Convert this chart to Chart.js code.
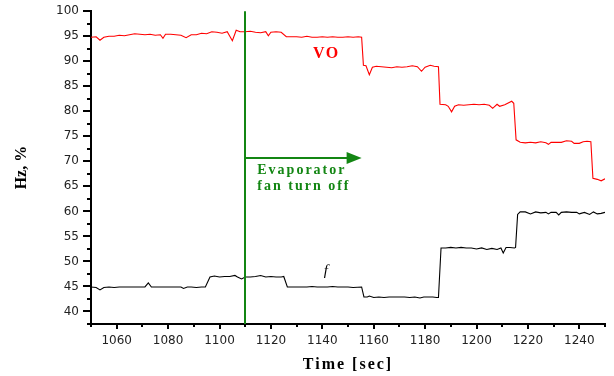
<!DOCTYPE html>
<html>
<head>
<meta charset="utf-8">
<title>VO and f vs time</title>
<script src="https://cdn.jsdelivr.net/npm/chart.js@4.4.1/dist/chart.umd.min.js"></script>
<style>
  html, body { margin: 0; padding: 0; background: #fff; }
  #wrap { width: 614px; height: 376px; position: relative; }
</style>
</head>
<body>
<div id="wrap"><canvas id="chart"></canvas></div>
<script>
// VO (%)
const voTime = [1050, 1052, 1053.5, 1055, 1057, 1059, 1061, 1063, 1065, 1067, 1069, 1071, 1073, 1075, 1077, 1078, 1079,
  1081, 1083, 1085, 1087, 1089, 1091, 1093, 1095, 1097, 1099, 1101, 1103, 1105, 1106.5, 1108, 1110, 1112, 1114,
  1116, 1118, 1119, 1120, 1122, 1124, 1126, 1128, 1130, 1132, 1134, 1136, 1138, 1140, 1142, 1144, 1146, 1148,
  1150, 1152, 1154, 1155.3, 1156, 1157, 1158.3, 1159.5, 1161, 1163, 1165, 1167, 1169, 1171, 1173, 1175, 1177,
  1178.6, 1180, 1182, 1183.5, 1185.2, 1185.8, 1188, 1189, 1190.3, 1191.5, 1193, 1195, 1197, 1199, 1201, 1203,
  1205, 1206.3, 1208, 1209, 1211, 1213.7, 1214.5, 1215.4, 1217, 1219, 1221, 1223, 1225, 1227, 1228, 1229, 1231,
  1233, 1235, 1237, 1238, 1240, 1241.5, 1243, 1244.5, 1245.3, 1247, 1248.5, 1250];
const voValues = [94.8, 94.9, 94.2, 94.8, 95.0, 95.0, 95.2, 95.1, 95.3, 95.5, 95.4, 95.3, 95.4, 95.2, 95.3, 94.6, 95.4,
  95.4, 95.3, 95.2, 94.7, 95.3, 95.3, 95.6, 95.5, 95.9, 95.8, 95.6, 95.9, 94.1, 96.2, 95.9, 95.9, 96.0, 95.8,
  95.7, 95.9, 95.1, 95.8, 95.9, 95.8, 94.9, 94.9, 94.9, 94.8, 95.0, 94.8, 94.8, 94.9, 94.8, 94.9, 94.8, 94.8,
  94.9, 94.8, 94.9, 94.8, 89.2, 89.1, 87.3, 88.8, 89.0, 88.9, 88.8, 88.7, 88.9, 88.8, 88.9, 89.1, 88.9,
  88.0, 88.8, 89.2, 89.0, 88.9, 81.4, 81.3, 81.0, 79.9, 81.0, 81.3, 81.2, 81.3, 81.4, 81.3, 81.4,
  81.2, 80.6, 81.4, 81.0, 81.3, 82.0, 81.6, 74.3, 73.8, 73.7, 73.8, 73.7, 73.9, 73.7, 73.4, 73.8, 73.8,
  73.8, 74.1, 74.0, 73.6, 73.6, 73.9, 74.0, 73.9, 66.6, 66.4, 66.1, 66.5];

// f (Hz)
const fTime = [1050, 1052, 1053.5, 1055, 1057, 1059, 1061, 1063, 1065, 1067, 1069, 1071, 1072.3, 1073.5, 1075, 1077,
  1079, 1081, 1083, 1085, 1086, 1087.5, 1089, 1091, 1093, 1094.5, 1096.3, 1098, 1100, 1102, 1104, 1106, 1107,
  1108.6, 1110, 1112, 1114, 1116, 1118, 1120, 1122, 1124, 1125, 1126.4, 1128, 1130, 1132, 1134, 1136, 1138,
  1140, 1142, 1144, 1146, 1148, 1150, 1152, 1155.3, 1156.2, 1157.5, 1158.3, 1160, 1162, 1164, 1166, 1168, 1170,
  1172, 1174, 1176, 1178, 1179.5, 1181, 1183, 1184.5, 1185.2, 1186.2, 1188, 1190, 1192, 1194, 1196, 1198, 1200,
  1202, 1204, 1206, 1208, 1209.5, 1210.4, 1211.5, 1213, 1214.8, 1215.2, 1216, 1217, 1219, 1221, 1223, 1225,
  1227, 1228, 1229, 1231, 1232, 1233, 1235, 1237, 1239, 1240, 1242, 1244, 1245.5, 1247, 1248.5, 1250];
const fValues = [44.9, 44.8, 44.3, 44.8, 44.9, 44.8, 44.9, 44.9, 44.9, 44.9, 44.9, 44.9, 45.7, 44.9, 44.9, 44.9,
  44.9, 44.9, 44.9, 44.9, 44.6, 44.9, 44.9, 44.8, 44.9, 44.9, 46.9, 47.1, 46.9, 47.0, 47.0, 47.2, 46.9,
  46.5, 46.9, 46.9, 47.0, 47.2, 46.9, 47.0, 46.9, 46.9, 47.0, 44.9, 44.9, 44.9, 44.9, 44.9, 45.0, 44.9,
  44.9, 44.9, 45.0, 44.9, 44.9, 44.9, 44.8, 44.9, 42.9, 42.9, 43.1, 42.8, 42.9, 42.8, 42.9, 42.9, 42.9,
  42.9, 42.8, 42.9, 42.7, 42.9, 42.9, 42.9, 42.8, 42.8, 52.7, 52.7, 52.8, 52.7, 52.8, 52.7, 52.7, 52.5,
  52.7, 52.4, 52.6, 52.4, 52.7, 51.7, 52.8, 52.8, 52.7, 52.8, 59.4, 59.9, 59.9, 59.5, 59.9, 59.7,
  59.8, 59.5, 59.8, 59.8, 59.3, 59.8, 59.9, 59.8, 59.8, 59.5, 59.8, 59.4, 59.9, 59.5, 59.6, 59.8];

const xTickValues = [1060, 1080, 1100, 1120, 1140, 1160, 1180, 1200, 1220, 1240];
const yTickValues = [40, 45, 50, 55, 60, 65, 70, 75, 80, 85, 90, 95, 100];

// fan switched off at this moment, arrow points forward in time
const fanOffTime = 1110;
const arrowEndTime = 1155.3;
const arrowLevel = 70.6;

const green = '#138613';

const decorations = {
  id: 'decorations',
  afterDraw(chart) {
    const { ctx, chartArea: area, scales: { x, y } } = chart;
    ctx.save();

    // major + minor tick marks, outside the axes
    ctx.strokeStyle = '#000';
    ctx.lineWidth = 2;
    ctx.beginPath();
    for (let v = y.min; v <= y.max + 1e-6; v += 2.5) {
      const py = Math.round(y.getPixelForValue(v));
      const len = yTickValues.includes(v) ? 8 : 4;
      ctx.moveTo(area.left - len, py);
      ctx.lineTo(area.left, py);
    }
    for (let v = x.min; v <= x.max + 1e-6; v += 10) {
      const px = Math.round(x.getPixelForValue(v));
      const len = xTickValues.includes(v) ? 5 : 3;
      ctx.moveTo(px, area.bottom);
      ctx.lineTo(px, area.bottom + len);
    }
    ctx.stroke();

    // fan-off marker and arrow
    const lx = Math.round(x.getPixelForValue(fanOffTime));
    ctx.strokeStyle = green;
    ctx.fillStyle = green;
    ctx.lineWidth = 2;
    ctx.beginPath();
    ctx.moveTo(lx, y.getPixelForValue(100));
    ctx.lineTo(lx, area.bottom);
    const ay = Math.round(y.getPixelForValue(arrowLevel));
    const tip = x.getPixelForValue(arrowEndTime);
    ctx.moveTo(lx, ay);
    ctx.lineTo(tip - 12, ay);
    ctx.stroke();
    ctx.beginPath();
    ctx.moveTo(tip - 15, ay - 6);
    ctx.lineTo(tip, ay);
    ctx.lineTo(tip - 15, ay + 6);
    ctx.closePath();
    ctx.fill();

    ctx.textBaseline = 'middle';
    ctx.textAlign = 'left';
    ctx.font = 'bold 14px "Liberation Serif"';
    ctx.letterSpacing = '2px';
    ctx.fillText('Evaporator', x.getPixelForValue(1114.7), y.getPixelForValue(68.1));
    ctx.fillText('fan turn off', x.getPixelForValue(1114.7), y.getPixelForValue(64.9));

    // series labels
    ctx.fillStyle = '#ff0000';
    ctx.font = 'bold 16px "Liberation Serif"';
    ctx.letterSpacing = '1.5px';
    ctx.fillText('VO', x.getPixelForValue(1136.4), y.getPixelForValue(91.4));
    ctx.fillStyle = '#000';
    ctx.font = 'italic 15px "Liberation Serif"';
    ctx.letterSpacing = '0px';
    ctx.textAlign = 'center';
    ctx.fillText('f', x.getPixelForValue(1141.4), y.getPixelForValue(48));

    // axis titles
    ctx.font = 'bold 16px "Liberation Serif"';
    ctx.letterSpacing = '2px';
    ctx.fillText('Time [sec]', (area.left + area.right) / 2, 365);
    ctx.letterSpacing = '0px';
    ctx.translate(21.5, (area.top + area.bottom) / 2);
    ctx.rotate(-Math.PI / 2);
    ctx.fillText('Hz, %', 0, 0);
    ctx.restore();
  }
};

const tickFont = { family: '"DejaVu Sans"', size: 12 };

new Chart(document.getElementById('chart'), {
  type: 'line',
  data: {
    datasets: [
      {
        label: 'VO',
        data: voTime.map((t, i) => ({ x: t, y: voValues[i] })),
        borderColor: '#ff0000',
        borderWidth: 1.1,
        pointRadius: 0,
        tension: 0,
        fill: false
      },
      {
        label: 'f',
        data: fTime.map((t, i) => ({ x: t, y: fValues[i] })),
        borderColor: '#000000',
        borderWidth: 1.1,
        pointRadius: 0,
        tension: 0,
        fill: false
      }
    ]
  },
  options: {
    responsive: true,
    maintainAspectRatio: false,
    animation: false,
    layout: { padding: { top: 11, right: 9, left: 0, bottom: 0 } },
    plugins: {
      legend: { display: false },
      tooltip: { enabled: false }
    },
    scales: {
      x: {
        type: 'linear',
        min: 1050,
        max: 1250,
        afterBuildTicks: (s) => { s.ticks = xTickValues.map(v => ({ value: v })); },
        afterFit: (s) => { s.height = 52; },
        ticks: { font: tickFont, color: '#222', padding: 4, maxRotation: 0, autoSkip: false, callback: (v) => String(v) },
        grid: { drawOnChartArea: false, tickLength: 6, tickColor: 'transparent' },
        border: { color: '#000', width: 2 }
      },
      y: {
        min: 37.5,
        max: 100,
        afterBuildTicks: (s) => { s.ticks = yTickValues.map(v => ({ value: v })); },
        afterFit: (s) => { s.width = 91; },
        ticks: { font: tickFont, color: '#222', padding: 4, callback: (v) => String(v) },
        grid: { drawOnChartArea: false, tickLength: 8, tickColor: 'transparent' },
        border: { color: '#000', width: 2 }
      }
    }
  },
  plugins: [decorations]
});
</script>
</body>
</html>
